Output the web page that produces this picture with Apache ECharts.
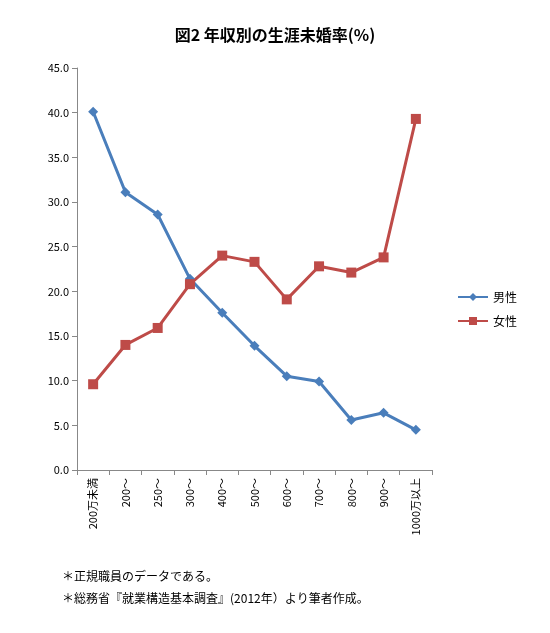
<!DOCTYPE html>
<html><head><meta charset="utf-8">
<script src="https://cdn.jsdelivr.net/npm/echarts@6/dist/echarts.min.js"></script>
<style>html,body{margin:0;padding:0;background:#fff}#c{width:550px;height:633px}</style>
</head><body><div id="c"></div>
<script>
const categories = ['200万未満','200～','250～','300～','400～','500～','600～','700～','800～','900～','1000万以上'];
const male = [40.1, 31.1, 28.6, 21.4, 17.6, 13.9, 10.5, 9.9, 5.6, 6.4, 4.5];
const female = [9.6, 14.0, 15.9, 20.8, 24.0, 23.3, 19.1, 22.8, 22.1, 23.8, 39.3];
const font = '"Noto Sans CJK JP", sans-serif';
const chart = echarts.init(document.getElementById('c'));
chart.setOption({
  animation:false,
  textStyle:{fontFamily:font},
  title:{text:'図2 年収別の生涯未婚率(%)',left:'center',top:22,textStyle:{fontSize:16,fontWeight:'bold',color:'#000',fontFamily:font}},
  legend:{orient:'vertical',left:452,top:286,itemGap:12,itemWidth:30,itemHeight:10,
    textStyle:{fontSize:12,color:'#000'},data:['男性','女性']},
  grid:{left:77,right:118,top:68,bottom:163},
  xAxis:{type:'category',data:categories,boundaryGap:true,
    axisLine:{lineStyle:{color:'#888'}},axisTick:{show:true,alignWithLabel:false,lineStyle:{color:'#888'}},
    axisLabel:{rotate:90,color:'#000',fontSize:11,interval:0}},
  yAxis:{type:'value',min:0,max:45,interval:5,
    axisLine:{show:true,lineStyle:{color:'#888'}},axisTick:{show:true,lineStyle:{color:'#888'}},
    splitLine:{show:false},
    axisLabel:{color:'#000',fontSize:11,formatter:v=>v.toFixed(1)}},
  series:[
    {name:'男性',type:'line',data:male,symbol:'diamond',symbolSize:10,
      lineStyle:{color:'#4a7ebb',width:3},itemStyle:{color:'#4a7ebb'}},
    {name:'女性',type:'line',data:female,symbol:'rect',symbolSize:10,
      lineStyle:{color:'#be4b48',width:3},itemStyle:{color:'#be4b48'}}
  ],
  graphic:[
    {type:'text',left:62,top:570,style:{text:'＊正規職員のデータである。',font:'12px '+font,fill:'#000'}},
    {type:'text',left:62,top:592,style:{text:'＊総務省『就業構造基本調査』(2012年）より筆者作成。',font:'12px '+font,fill:'#000'}}
  ]
});
</script></body></html>
